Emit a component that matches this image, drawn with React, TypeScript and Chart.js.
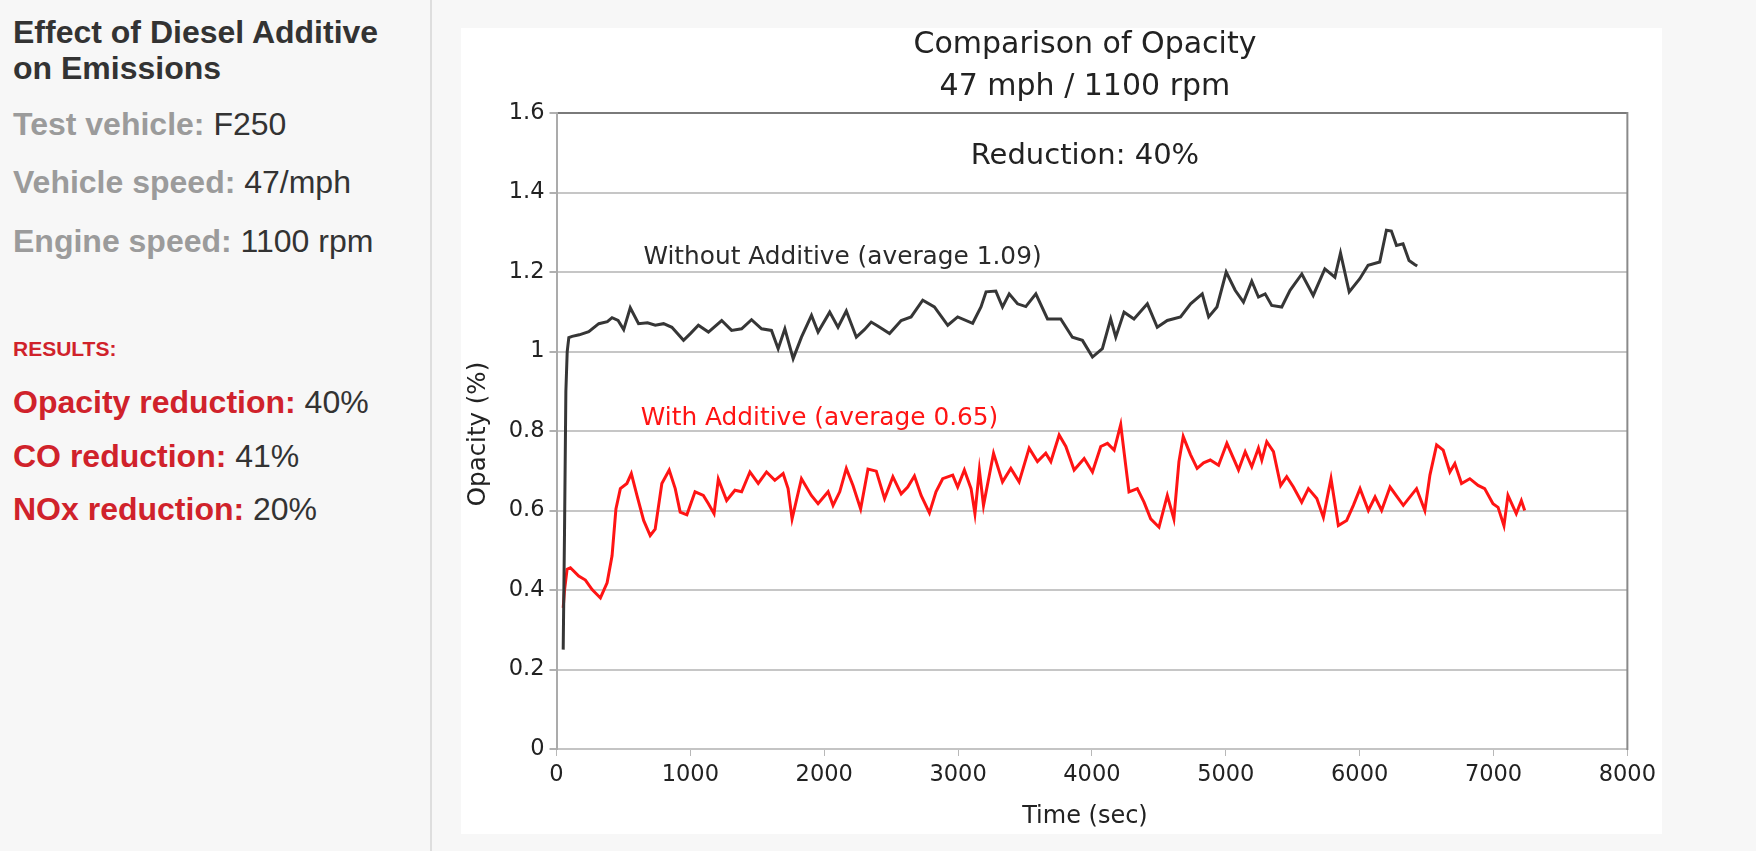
import React, { useEffect, useRef } from "react";
import { Chart, registerables } from "chart.js";

Chart.register(...registerables);

// ---------- Data ----------
const withoutTime = [
  50, 60, 70, 80, 92, 117, 170, 241, 316, 380, 415, 460, 502, 551, 613, 680, 738, 800, 862, 949,
  1000, 1060, 1135, 1234, 1308, 1383, 1457, 1532, 1606, 1656, 1706, 1768, 1830, 1905, 1954, 2041,
  2103, 2165, 2240, 2300, 2351, 2400, 2488, 2575, 2649, 2736, 2823, 2923, 2997, 3109, 3171, 3209,
  3282, 3332, 3382, 3444, 3506, 3581, 3668, 3767, 3854, 3929, 4004, 4078, 4140, 4178, 4240, 4314,
  4414, 4488, 4563, 4662, 4737, 4824, 4872, 4934, 5003, 5070, 5132, 5194, 5244, 5294, 5343, 5418,
  5480, 5568, 5653, 5740, 5815, 5857, 5922, 6001, 6063, 6150, 6200, 6237, 6275, 6324, 6369, 6411,
  6430,
];
const withoutOpacity = [
  0.25, 0.55, 0.9, 1.0, 1.035, 1.038, 1.042, 1.05, 1.07, 1.075, 1.085, 1.078, 1.055, 1.11, 1.07,
  1.072, 1.066, 1.07, 1.061, 1.028, 1.045, 1.066, 1.049, 1.078, 1.053, 1.057, 1.08, 1.057, 1.053,
  1.007, 1.057, 0.982, 1.036, 1.091, 1.049, 1.099, 1.061, 1.102, 1.036, 1.055, 1.074, 1.064, 1.045,
  1.078, 1.087, 1.129, 1.112, 1.066, 1.087, 1.071, 1.112, 1.15, 1.152, 1.112, 1.145, 1.12, 1.113,
  1.145, 1.082, 1.082, 1.036, 1.028, 0.986, 1.007, 1.082, 1.036, 1.099, 1.082, 1.12, 1.061, 1.078,
  1.087, 1.12, 1.145, 1.087, 1.112, 1.2, 1.154, 1.124, 1.177, 1.137, 1.145, 1.116, 1.112, 1.154,
  1.195, 1.141, 1.208, 1.187, 1.248, 1.15, 1.183, 1.217, 1.225, 1.305, 1.303, 1.267, 1.271, 1.229,
  1.219, 1.215,
];

const withTime = [
  50, 60, 79, 104, 166, 216, 266, 328, 378, 415, 444, 477, 526, 559, 601, 651, 700, 737, 787, 842,
  887, 924, 974, 1035, 1097, 1135, 1177, 1209, 1271, 1333, 1383, 1445, 1507, 1569, 1631, 1693, 1730,
  1760, 1830, 1904, 1954, 2029, 2066, 2116, 2165, 2215, 2272, 2327, 2389, 2451, 2513, 2575, 2624,
  2674, 2724, 2786, 2835, 2885, 2960, 2997, 3047, 3097, 3126, 3159, 3190, 3265, 3332, 3394, 3456,
  3531, 3593, 3655, 3693, 3755, 3805, 3867, 3942, 4004, 4066, 4116, 4166, 4215, 4252, 4277, 4339,
  4389, 4439, 4501, 4563, 4612, 4650, 4682, 4737, 4786, 4834, 4884, 4946, 5008, 5095, 5145, 5194,
  5244, 5269, 5306, 5356, 5410, 5455, 5505, 5567, 5617, 5680, 5729, 5786, 5841, 5903, 5953, 6003,
  6065, 6115, 6164, 6227, 6326, 6425, 6487, 6525, 6575, 6624, 6674, 6711, 6761, 6823, 6885, 6934,
  6996, 7034, 7078, 7108, 7170, 7208, 7233,
];
const withOpacity = [
  0.355, 0.4, 0.452, 0.456, 0.435, 0.425, 0.401, 0.38, 0.418, 0.486, 0.604, 0.655, 0.668, 0.693,
  0.638, 0.575, 0.537, 0.553, 0.668, 0.702, 0.655, 0.596, 0.589, 0.647, 0.638, 0.617, 0.592, 0.679,
  0.625, 0.651, 0.647, 0.697, 0.668, 0.697, 0.676, 0.693, 0.655, 0.579, 0.68, 0.638, 0.617, 0.647,
  0.613, 0.647, 0.706, 0.663, 0.604, 0.704, 0.699, 0.63, 0.685, 0.642, 0.659, 0.687, 0.638, 0.594,
  0.647, 0.68, 0.689, 0.659, 0.702, 0.655, 0.592, 0.702, 0.613, 0.744, 0.672, 0.706, 0.672, 0.757,
  0.723, 0.744, 0.723, 0.79, 0.761, 0.702, 0.731, 0.697, 0.761, 0.769, 0.752, 0.816, 0.714, 0.647,
  0.655, 0.621, 0.579, 0.558, 0.638, 0.579, 0.723, 0.786, 0.74, 0.706, 0.72, 0.727, 0.714, 0.769,
  0.702, 0.748, 0.71, 0.757, 0.727, 0.773, 0.748, 0.663, 0.685, 0.659, 0.621, 0.655, 0.63, 0.583,
  0.68, 0.562, 0.575, 0.613, 0.655, 0.6, 0.634, 0.6, 0.659, 0.613, 0.655, 0.6, 0.689, 0.765, 0.752,
  0.697, 0.718, 0.668, 0.68, 0.663, 0.655, 0.617, 0.608, 0.562, 0.638, 0.592, 0.625, 0.6,
];

const chartTitle = "Comparison of Opacity";
const chartSubtitle = "47 mph / 1100 rpm";
const reductionLabel = "Reduction: 40%";
const withoutLabel = "Without Additive (average 1.09)";
const withLabel = "With Additive (average 0.65)";
const xAxisTitle = "Time (sec)";
const yAxisTitle = "Opacity (%)";

const panelTitle = ["Effect of Diesel Additive", "on Emissions"];
const specLabels = ["Test vehicle:", "Vehicle speed:", "Engine speed:"];
const specValues = ["F250", "47/mph", "1100 rpm"];
const resultsHeading = "RESULTS:";
const resultLabels = ["Opacity reduction:", "CO reduction:", "NOx reduction:"];
const resultValues = ["40%", "41%", "20%"];

// ---------- Styling ----------
const chartFont = '"DejaVu Sans", Verdana, sans-serif';
const panelFont = '"Liberation Sans", Arial, Helvetica, sans-serif';
const RED_TEXT = "#d0222b";
const LINE_RED = "#ff1414";
const LINE_DARK = "#363636";

const overlayPlugin = {
  id: "overlayTexts",
  afterDatasetsDraw(chart: any) {
    const { ctx, chartArea, scales } = chart;
    const cx = (chartArea.left + chartArea.right) / 2 - 7;
    ctx.save();
    // right frame
    ctx.strokeStyle = "#8a8a8a";
    ctx.lineWidth = 2;
    ctx.beginPath();
    ctx.moveTo(chartArea.right, chartArea.top - 1);
    ctx.lineTo(chartArea.right, chartArea.bottom + 1);
    ctx.stroke();

    ctx.fillStyle = "#222";
    ctx.textAlign = "center";
    ctx.textBaseline = "alphabetic";
    ctx.font = `30px ${chartFont}`;
    ctx.fillText(chartTitle, cx, chartArea.top - 60);
    ctx.fillText(chartSubtitle, cx, chartArea.top - 18);
    ctx.font = `29px ${chartFont}`;
    ctx.fillText(reductionLabel, cx, chartArea.top + 51);
    ctx.font = `24px ${chartFont}`;
    ctx.fillText(xAxisTitle, cx, chartArea.bottom + 74);

    ctx.save();
    ctx.translate(chartArea.left - 77.5, (chartArea.top + chartArea.bottom) / 2 + 3);
    ctx.rotate(-Math.PI / 2);
    ctx.textBaseline = "middle";
    ctx.font = `24.5px ${chartFont}`;
    ctx.fillText(yAxisTitle, 0, 0);
    ctx.restore();

    ctx.textAlign = "left";
    ctx.font = `24.8px ${chartFont}`;
    ctx.fillStyle = "#2a2a2a";
    ctx.fillText(withoutLabel, scales.x.getPixelForValue(650), scales.y.getPixelForValue(1.22));
    ctx.fillStyle = LINE_RED;
    ctx.fillText(withLabel, scales.x.getPixelForValue(630), scales.y.getPixelForValue(0.816));
    ctx.restore();
  },
};

function OpacityChart() {
  const canvasRef = useRef<HTMLCanvasElement | null>(null);
  useEffect(() => {
    if (!canvasRef.current) return;
    const chart = new Chart(canvasRef.current, {
      type: "line",
      data: {
        datasets: [
          {
            label: withoutLabel,
            data: withoutTime.map((t, i) => ({ x: t, y: withoutOpacity[i] })),
            borderColor: LINE_DARK,
            borderWidth: 3,
            pointRadius: 0,
            tension: 0,
            fill: false,
          },
          {
            label: withLabel,
            data: withTime.map((t, i) => ({ x: t, y: withOpacity[i] })),
            borderColor: LINE_RED,
            borderWidth: 3,
            pointRadius: 0,
            tension: 0,
            fill: false,
          },
        ],
      },
      options: {
        animation: false,
        responsive: true,
        maintainAspectRatio: false,
        layout: { padding: { top: 85, right: 31.5, left: 0, bottom: 0 } },
        plugins: {
          legend: { display: false },
          tooltip: { enabled: false },
          title: { display: false },
        },
        scales: {
          x: {
            type: "linear",
            min: 0,
            max: 8000,
            afterFit: (scale: any) => {
              scale.height = 85;
            },
            ticks: {
              stepSize: 1000,
              autoSkip: false,
              maxRotation: 0,
              padding: 6,
              color: "#222",
              font: { family: chartFont, size: 22.5 },
              callback: (v: any) => String(v),
            },
            grid: {
              drawOnChartArea: false,
              drawTicks: true,
              tickLength: 7,
              tickColor: "#b8b8b8",
            },
            border: { display: true, color: "#c4c4c4", width: 2 },
          },
          y: {
            type: "linear",
            min: 0,
            max: 1.6,
            afterFit: (scale: any) => {
              scale.width = 95.5;
            },
            ticks: {
              stepSize: 0.2,
              padding: 5,
              color: "#222",
              font: { family: chartFont, size: 22.5 },
              callback: (v: any) => String(Math.round(Number(v) * 10) / 10),
            },
            grid: {
              color: (c: any) => (c.tick && Math.abs(c.tick.value - 1.6) < 1e-6 ? "#7a7a7a" : "#c6c6c6"),
              lineWidth: 2,
              drawTicks: true,
              tickLength: 7,
              tickColor: "#b0b0b0",
            },
            border: { display: true, color: "#ababab", width: 2 },
          },
        },
      },
      plugins: [overlayPlugin],
    });
    return () => chart.destroy();
  }, []);
  return <canvas ref={canvasRef} />;
}

export default function App() {
  const lineStyle = (top: number, size: number, extra: any = {}) => ({
    position: "absolute" as const,
    left: 13,
    top,
    fontSize: size,
    lineHeight: 1,
    whiteSpace: "nowrap" as const,
    ...extra,
  });
  return (
    <div
      style={{
        position: "fixed",
        left: 0,
        top: 0,
        width: 1756,
        height: 851,
        background: "#f7f7f7",
        fontFamily: panelFont,
        overflow: "hidden",
      }}
    >
      <div style={{ position: "absolute", left: 430, top: 0, width: 2, height: 851, background: "#dedede" }} />
      <div style={lineStyle(16, 32, { fontWeight: 700, color: "#333" })}>{panelTitle[0]}</div>
      <div style={lineStyle(52, 32, { fontWeight: 700, color: "#333" })}>{panelTitle[1]}</div>
      {specLabels.map((lab, i) => (
        <div key={lab} style={lineStyle([108, 166, 225][i], 32, { color: "#333" })}>
          <span style={{ fontWeight: 700, color: "#9b9b9b" }}>{lab}</span> {specValues[i]}
        </div>
      ))}
      <div style={lineStyle(338, 21, { fontWeight: 700, color: RED_TEXT })}>{resultsHeading}</div>
      {resultLabels.map((lab, i) => (
        <div key={lab} style={lineStyle([386, 440, 493][i], 32, { color: "#333" })}>
          <span style={{ fontWeight: 700, color: RED_TEXT }}>{lab}</span> {resultValues[i]}
        </div>
      ))}
      <div style={{ position: "absolute", left: 461, top: 28, width: 1201, height: 806, background: "#fff" }}>
        <OpacityChart />
      </div>
    </div>
  );
}
